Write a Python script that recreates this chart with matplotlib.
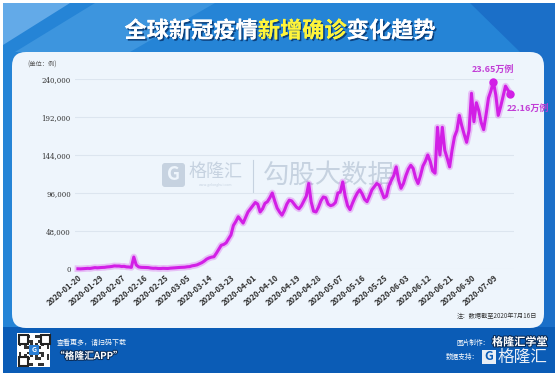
import numpy as np
import pandas as pd
import matplotlib
matplotlib.use('Agg')
import matplotlib.pyplot as plt
import matplotlib.patheffects as pe
from matplotlib.patches import Rectangle, FancyBboxPatch, Polygon

plt.rcParams['font.family'] = ['Noto Sans CJK SC', 'DejaVu Sans']

# daily new confirmed cases, 2020-01-20 .. 2020-07-16
new_cases = [
    280, 150, 310, 570, 830, 690, 1280, 1750, 1470, 1740,
    1980, 2100, 2590, 2830, 3240, 3900, 3700, 3720, 3180, 3400,
    2680, 2540, 2050, 15150, 5110, 2650, 2100, 2050, 1890, 1750,
    1200, 900, 1020, 650, 600, 850, 700, 650, 1050, 1250,
    1500, 1800, 2000, 2150, 2300, 2800, 3000, 4000, 4500, 5200,
    6600, 8000, 10000, 12500, 14000, 15000, 15500, 20000, 25000, 30000,
    31000, 33000, 38000, 43000, 55000, 60000, 66000, 62000, 58000, 65000,
    72000, 76000, 80000, 84000, 82000, 72000, 76000, 83000, 85000, 90000,
    96000, 86000, 77000, 72000, 68000, 74000, 82000, 87000, 86000, 82000,
    78000, 76000, 80000, 86000, 92000, 108000, 85000, 73000, 72000, 78000,
    86000, 91000, 90000, 82000, 80000, 81000, 84000, 96000, 97000, 110000,
    92000, 80000, 75000, 83000, 90000, 96000, 100000, 95000, 88000, 85000,
    92000, 100000, 104000, 108000, 106000, 98000, 90000, 92000, 105000, 112000,
    118000, 129000, 112000, 102000, 108000, 118000, 126000, 131000, 127000, 115000,
    108000, 118000, 130000, 136000, 144000, 136000, 124000, 121000, 179000, 144000,
    179000, 150000, 140000, 129000, 150000, 167000, 175000, 194000, 181000, 170000,
    160000, 175000, 222000, 186000, 210000, 200000, 185000, 176000, 195000, 216000,
    225000, 236500, 220000, 194000, 205000, 218000, 231000, 226000, 221600,
]
dates = pd.date_range('2020-01-20', periods=len(new_cases), freq='D')
tick_dates = pd.date_range('2020-01-20', '2020-07-09', freq='9D')
y_ticks = [0, 48000, 96000, 144000, 192000, 240000]

peak_i = int(np.argmax(new_cases))
last_i = len(new_cases) - 1

W, H = 559, 377
fig = plt.figure(figsize=(W / 100, H / 100), dpi=100)
fig.patch.set_facecolor('white')

# background in pixel coords (y up)
bg = fig.add_axes([0, 0, 1, 1])
bg.set_xlim(0, W)
bg.set_ylim(0, H)
bg.axis('off')

def Y(y):
    return H - y

bg.add_patch(Rectangle((3, Y(330)), 552, 327, color='#2584d6', lw=0))
bg.add_patch(Polygon([(3, Y(3)), (70, Y(3)), (3, Y(45))], color='#63aae8', lw=0))
bg.add_patch(Polygon([(95, Y(3)), (215, Y(3)), (130, Y(52)), (15, Y(52))], color='#3d95de', lw=0))
bg.add_patch(Polygon([(470, Y(3)), (555, Y(3)), (555, Y(330)), (530, Y(330)), (520, Y(52))],
                     color='#1b6fc8', lw=0))
bg.add_patch(Rectangle((3, Y(373)), 552, 46, color='#0b5cb6', lw=0))
bg.add_patch(FancyBboxPatch((12, Y(328)), 532, 276, boxstyle='round,pad=0,rounding_size=14',
                            fc='#eef5fc', ec='none'))

# title
fs = 16
cw = fs * 100 / 72
parts = [('全球新冠疫情', 'white'), ('新增确诊', '#fff43a'), ('变化趋势', 'white')]
x0 = 280 - cw * 14 / 2
for txt, col in parts:
    bg.text(x0, Y(31), txt, color=col, fontsize=fs, fontweight='bold', ha='left', va='center',
            path_effects=[pe.withSimplePatchShadow(offset=(1.2, -1.2), shadow_rgbFace='#0a3a74', alpha=0.9),
                          pe.Normal()])
    x0 += cw * len(txt)

bg.text(42, Y(65), '(单位：例)', fontsize=4.5, color='#555555', ha='center', va='center')

# watermark
wm = '#c6d2e0'
bg.add_patch(FancyBboxPatch((162, Y(187)), 23, 24, boxstyle='round,pad=0,rounding_size=3', fc=wm, ec='none'))
bg.text(174, Y(175), 'G', fontsize=13, fontweight='bold', color='#eef5fc', ha='center', va='center')
bg.text(216, Y(172), '格隆汇', fontsize=13, color=wm, ha='center', va='center')
bg.text(216, Y(185), 'www.gelonghui.com', fontsize=2.5, color=wm, ha='center', va='center')
bg.plot([253, 253], [Y(160), Y(192)], color=wm, lw=0.8)
bg.text(329, Y(175), '勾股大数据', fontsize=19, color=wm, ha='center', va='center')

# note + footer
bg.text(537, Y(316), '注：数据截至2020年7月16日', fontsize=4.5, color='#333333', ha='right', va='center')

bg.add_patch(Rectangle((17, Y(367)), 33, 34, color='white', lw=0))
for i in range(11):
    for j in range(11):
        if (i * 7 + j * 3 + i * j) % 4 < 2:
            bg.add_patch(Rectangle((18.5 + i * 2.8, Y(365.5) + j * 2.8), 2.8, 2.8, color='#333333', lw=0))
for cx, cy in [(18.5, 334.5), (40.5, 334.5), (18.5, 356.5)]:
    bg.add_patch(Rectangle((cx, Y(cy + 9)), 9, 9, fc='white', ec='#222222', lw=1.5))
bg.add_patch(Rectangle((29, Y(355)), 10, 10, color='#2a7fd6', lw=0))
bg.text(34, Y(350), 'G', fontsize=5, color='white', fontweight='bold', ha='center', va='center')

bg.text(57, Y(343), '查看更多，请扫码下载', fontsize=5, color='white', ha='left', va='center')
bg.text(55, Y(356), '“格隆汇APP”', fontsize=7, fontweight='bold', color='white', ha='left', va='center',
        path_effects=[pe.withStroke(linewidth=1.5, foreground='#0a2d5a')])
bg.text(456, Y(343), '图片制作：', fontsize=4.8, color='white', ha='left', va='center')
bg.text(492, Y(342), '格隆汇学堂', fontsize=8, fontweight='bold', color='white', ha='left', va='center',
        path_effects=[pe.withStroke(linewidth=1.5, foreground='#0a2d5a')])
bg.text(446, Y(357), '数据支持：', fontsize=4.8, color='white', ha='left', va='center')
bg.add_patch(Rectangle((482, Y(364)), 14, 14, color='#e8eef5', lw=0))
bg.text(489, Y(357), 'G', fontsize=9, fontweight='bold', color='#0b5cb6', ha='center', va='center')
bg.text(498, Y(357), '格隆汇', fontsize=12, color='#e8eef5', ha='left', va='center')

# chart
ax = fig.add_axes([75 / W, (H - 269) / H, 439 / W, 190 / H])
ax.patch.set_alpha(0)
ax.plot(dates, new_cases, color='#d21fe6', lw=4.8, alpha=0.25, solid_joinstyle='round', clip_on=False)
ax.plot(dates, new_cases, color='#d21fe6', lw=2.2, solid_joinstyle='round', clip_on=False)
ax.plot([dates[peak_i], dates[last_i]], [new_cases[peak_i], new_cases[last_i]], 'o',
        color='#d21fe6', ms=5, clip_on=False)
ax.annotate(f'{new_cases[peak_i] / 10000:.2f}万例', (dates[peak_i], new_cases[peak_i]),
            xytext=(0, 12), textcoords='offset pixels', ha='center', va='center',
            fontsize=6.5, color='#c23ed6', fontweight='bold')
ax.annotate(f'{new_cases[last_i] / 10000:.2f}万例', (dates[last_i], new_cases[last_i]),
            xytext=(-4, -15), textcoords='offset pixels', ha='left', va='center',
            fontsize=6.5, color='#c23ed6', fontweight='bold')

ax.set_ylim(0, 240000)
ax.set_xlim(dates[0] - pd.Timedelta(days=1.2), dates[0] + pd.Timedelta(days=179.5))
ax.set_yticks(y_ticks)
ax.set_yticklabels([f'{v:,}' for v in y_ticks], fontsize=5, color='#333333', family='DejaVu Serif')
ax.set_xticks(tick_dates)
ax.set_xticklabels([d.strftime('%Y-%m-%d') for d in tick_dates], rotation=40, ha='right',
                   rotation_mode='anchor', fontsize=5.6, color='#333333', fontweight='bold')
ax.tick_params(length=0, pad=3)
ax.grid(axis='y', color='#dce5ef', lw=0.8)
ax.set_axisbelow(True)
for s in ax.spines.values():
    s.set_visible(False)

fig.savefig('out.png', dpi=100)
